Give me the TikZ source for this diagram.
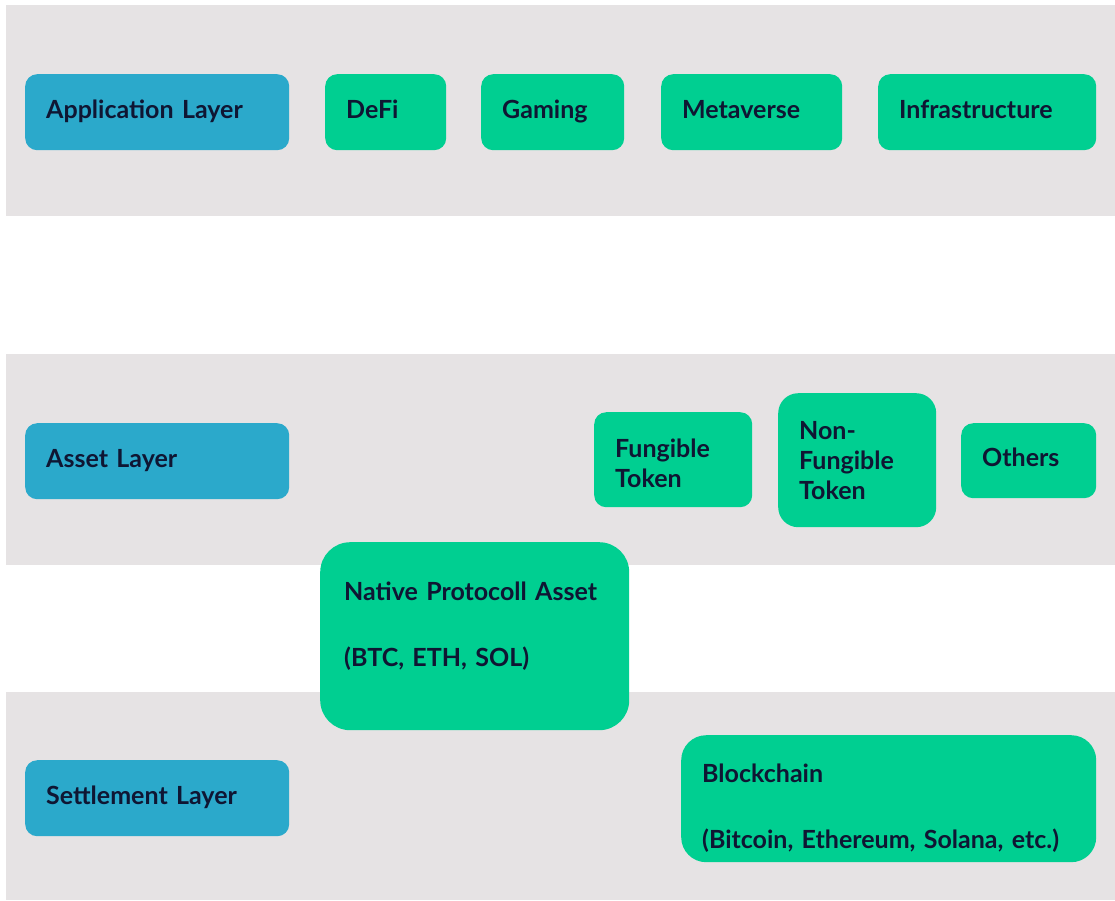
\documentclass[tikz,border=0pt]{standalone}
\usepackage{fontspec}
\setmainfont{Lato}
\usetikzlibrary{positioning}
\definecolor{bandgrey}{HTML}{E6E3E4}
\definecolor{layerblue}{HTML}{2BA9CB}
\definecolor{itemgreen}{HTML}{00CF91}
\definecolor{inkdark}{HTML}{0F1633}

\begin{document}
\begin{tikzpicture}[x=1pt,y=-1pt,font=\fontsize{25}{30}\selectfont\bfseries,
					text=inkdark]
					\tikzstyle{band}=[fill=bandgrey]
					\tikzstyle{box}=[anchor=north west,align=left,inner xsep=21pt,inner ysep=0pt,rounded corners=12pt,
						execute at begin node=\strut,execute at end node=\strut]
					\tikzstyle{layer}=[box,fill=layerblue,text width=222pt,minimum height=76pt]
					\tikzstyle{item}=[box,fill=itemgreen]
					
					\useasboundingbox (0,0) rectangle (1115,900);
					\fill[white] (0,0) rectangle (1115,900);
					
					% the three bands
					\fill[band] (6,5) rectangle (1115,216);
					\fill[band] (6,354) rectangle (1115,565);
					\fill[band] (6,692) rectangle (1115,900);
					
					\node[layer]         (app)    at (25,74)   {Application Layer};
					\node[item, text width=79pt,  minimum height=76pt] (defi)   at (325,74)  {DeFi};
					\node[item, text width=101pt, minimum height=76pt] (gaming) at (481,74)  {Gaming};
					\node[item, text width=139pt, minimum height=76pt] (meta)   at (661,74)  {Metaverse};
					\node[item, text width=176pt, minimum height=76pt] (infra)  at (878,74)  {Infrastructure};
					
					\node[layer]         (asset)  at (25,423)  {Asset Layer};
					\node[item, text width=116pt, minimum height=95pt]  (fung)    at (594,412) {\rule{0pt}{35pt}Fungible\\Token};
					\node[item, text width=116pt, minimum height=134pt, rounded corners=20pt] (nonfung) at (778,393) {\rule{0pt}{27pt}Non-\\Fungible\\Token};
					\node[item, text width=93pt,  minimum height=75pt]  (others)  at (961,423) {Others};
					
					\node[item, text width=261pt, minimum height=188pt, inner xsep=24pt, rounded corners=30pt] (native) at (320,542)
						{Native Protocoll Asset\\[36pt](BTC, ETH, SOL)\rule[-26pt]{0pt}{0pt}};
					
					\node[layer]         (settle) at (25,760)  {Settlement Layer};
					\node[item, text width=373pt, minimum height=127pt, rounded corners=25pt] (chain) at (681,735)
						{\rule{0pt}{42pt}Blockchain\\[36pt](Bitcoin, Ethereum, Solana, etc.)};
\end{tikzpicture}
\end{document}
